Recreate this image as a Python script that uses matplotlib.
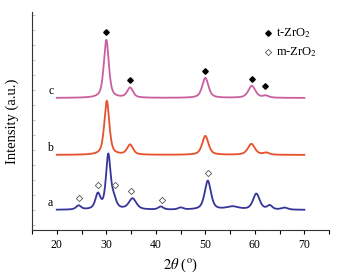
import numpy as np
import matplotlib.pyplot as plt

plt.rcParams['font.family'] = ['Liberation Serif', 'DejaVu Serif']
plt.rcParams['mathtext.fontset'] = 'stix'

# scan range in 2theta (deg)
two_theta = np.linspace(20, 70, 1001)

# baselines (arb. units) for the stacked patterns
base_a, base_b, base_c = 20, 75, 132

# peaks: position, height above baseline, FWHM
pos_a = [24.4, 28.3, 30.4, 31.5, 35.3, 41.0, 45.0, 50.5, 55.5, 60.3, 63.0, 66.0]
amp_a = [4, 15, 54, 9, 11, 3, 2, 29, 3, 16, 4, 2]
fwhm_a = [1.2, 1.2, 1.1, 1.2, 1.8, 1.2, 1.2, 1.5, 3.0, 1.6, 1.2, 1.5]

pos_b = [30.1, 34.8, 50.0, 59.3, 62.3]
amp_b = [54, 10, 19, 11, 2]
fwhm_b = [1.2, 1.4, 1.5, 1.7, 1.4]

pos_c = [30.0, 34.8, 50.0, 59.4, 62.2]
amp_c = [58, 10, 20, 12, 2]
fwhm_c = [1.2, 1.4, 1.5, 1.7, 1.4]

# phase markers
t_x = [30.0, 34.8, 50.0, 59.4, 62.0]
t_y = [198, 150, 159, 151, 144]
m_x = [24.4, 28.4, 31.7, 35.0, 41.2, 50.6]
m_y = [32, 45, 45, 39, 30, 57]


def pattern(base, pos, amp, fwhm):
    y = np.full_like(two_theta, float(base))
    for p, a, w in zip(pos, amp, fwhm):
        g = (w / 2) ** 2
        lor = g / ((two_theta - p) ** 2 + g)
        gau = np.exp(-4 * np.log(2) * (two_theta - p) ** 2 / w ** 2)
        y += a * (0.6 * lor + 0.4 * gau)
    return y


fig = plt.figure(figsize=(3.52, 2.79), dpi=100)
ax = fig.add_axes([0.091, 0.176, 0.844, 0.781])

ax.plot(two_theta, pattern(base_a, pos_a, amp_a, fwhm_a), color='#35359a', lw=1.3)
ax.plot(two_theta, pattern(base_b, pos_b, amp_b, fwhm_b), color='#e8502a', lw=1.3)
ax.plot(two_theta, pattern(base_c, pos_c, amp_c, fwhm_c), color='#c8609f', lw=1.3)

ax.plot(t_x, t_y, 'D', color='black', ms=2.8, ls='none')
ax.plot(m_x, m_y, 'D', mfc='white', mec='#555555', mew=0.6, ms=3.2, ls='none')

ax.text(19.3, base_a + 1, 'a', fontsize=8.5, ha='right', va='bottom')
ax.text(19.3, base_b + 1, 'b', fontsize=8.5, ha='right', va='bottom')
ax.text(19.3, base_c + 1, 'c', fontsize=8.5, ha='right', va='bottom')

# legend drawn by hand
ax.plot([62.6], [197], 'D', color='black', ms=2.8)
ax.plot([62.6], [178], 'D', mfc='white', mec='#555555', mew=0.6, ms=3.2)
ax.text(64.3, 197, 't-ZrO$_2$', fontsize=9, va='center')
ax.text(64.3, 178, 'm-ZrO$_2$', fontsize=9, va='center')

ax.set_xlim(15, 75)
ax.set_ylim(0, 218)
ax.set_xticks(range(20, 71, 10))
ax.set_xticks(range(15, 76, 5), minor=True)
ax.tick_params(axis='x', which='both', direction='out', length=3, labelsize=8.5, width=0.8)
ax.set_yticks(np.arange(5, 218, 15))
ax.set_yticklabels([])
ax.tick_params(axis='y', direction='in', length=2, width=0.5, colors='#aaaaaa')

for s in ['top', 'right']:
    ax.spines[s].set_visible(False)
for s in ['left', 'bottom']:
    ax.spines[s].set_color('#333333')
    ax.spines[s].set_linewidth(0.8)

ax.set_xlabel('$2\\theta$ ($^{\\rm o}$)', fontsize=10.5, labelpad=4)
ax.set_ylabel('Intensity (a.u.)', fontsize=10.5, labelpad=6)

fig.savefig('out.png', dpi=100)
